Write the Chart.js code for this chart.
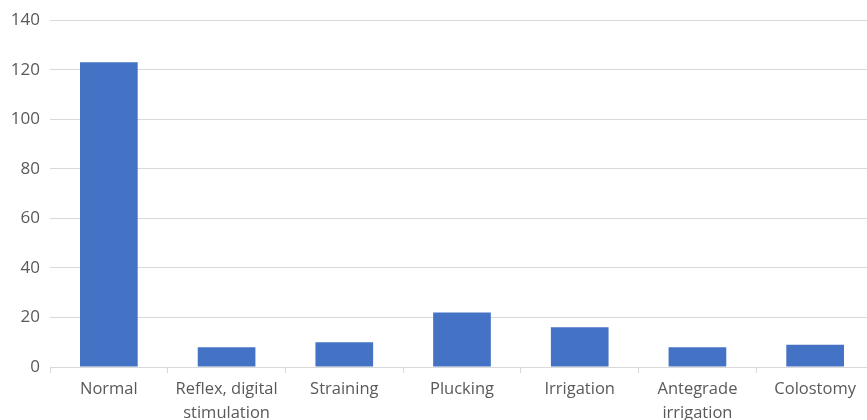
<!DOCTYPE html>
<html>
<head>
<meta charset="utf-8">
<script src="https://cdn.jsdelivr.net/npm/chart.js@4.4.1/dist/chart.umd.min.js"></script>
<style>
  html, body { margin: 0; padding: 0; background: #fff; overflow: hidden; }
  #wrap { position: relative; width: 880px; height: 420px; }
</style>
</head>
<body>
<div id="wrap"><canvas id="chart"></canvas></div>
<script>
// Bowel management method counts
const categories = [
  "Normal",
  ["Reflex, digital", "stimulation"],
  "Straining",
  "Plucking",
  "Irrigation",
  ["Antegrade", "irrigation"],
  "Colostomy",
];
const counts = [123, 8, 10, 22, 16, 8, 9];
const yTicks = [0, 20, 40, 60, 80, 100, 120, 140];

const textColor = "#595959";
const gridColor = "#d9d9d9";

new Chart(document.getElementById("chart"), {
  type: "bar",
  data: {
    labels: categories,
    datasets: [
      {
        data: counts,
        backgroundColor: "#4472c4",
        barPercentage: 0.49,
        categoryPercentage: 1,
      },
    ],
  },
  options: {
    responsive: true,
    maintainAspectRatio: false,
    animation: false,
    layout: { padding: { top: 20, right: 6, left: 0, bottom: 0 } },
    plugins: { legend: { display: false }, tooltip: { enabled: false } },
    scales: {
      x: {
        offset: true,
        grid: {
          offset: true,
          drawOnChartArea: false,
          drawTicks: true,
          tickLength: 6,
          color: gridColor,
        },
        border: { color: gridColor },
        ticks: {
          color: textColor,
          font: { family: "'Open Sans'", size: 16.5, lineHeight: 1.42 },
          padding: 5,
          maxRotation: 0,
          autoSkip: false,
        },
        afterFit: (scale) => {
          scale.height = 53;
        },
      },
      y: {
        min: 0,
        max: 140,
        afterBuildTicks: (scale) => {
          scale.ticks = yTicks.map((v) => ({ value: v }));
        },
        grid: { color: gridColor, drawTicks: false },
        border: { display: false },
        ticks: {
          color: textColor,
          font: { family: "'Open Sans'", size: 17 },
          padding: 10,
        },
        afterFit: (scale) => {
          scale.width = 50;
        },
      },
    },
  },
});
</script>
</body>
</html>
